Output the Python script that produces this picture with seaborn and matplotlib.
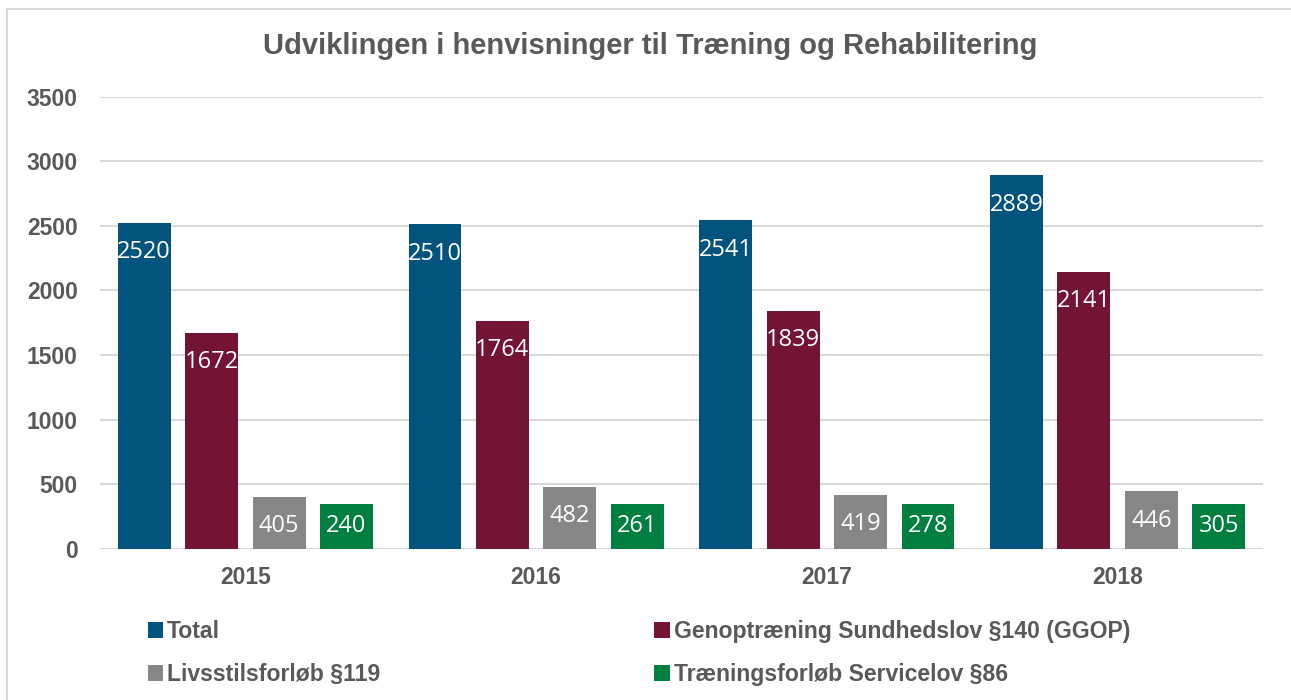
import matplotlib
matplotlib.use("Agg")
import matplotlib.pyplot as plt
import seaborn as sns
import pandas as pd
from matplotlib.patches import Rectangle

years = ["2015", "2016", "2017", "2018"]
series = ["Total", "Genoptræning Sundhedslov §140 (GGOP)",
          "Livsstilsforløb §119", "Træningsforløb Servicelov §86"]
total = [2520, 2510, 2541, 2889]
ggop = [1672, 1764, 1839, 2141]
livsstil = [405, 482, 419, 446]
traening_bar = [350, 350, 350, 350]      # bar heights as drawn in the picture
traening_label = [240, 261, 278, 305]    # printed labels
colors = ["#03537f", "#741435", "#878787", "#007f40"]

rows = []
for s, vals in zip(series, [total, ggop, livsstil, traening_bar]):
    for y, v in zip(years, vals):
        rows.append({"year": y, "series": s, "value": v})
df = pd.DataFrame(rows)
labels = {series[0]: total, series[1]: ggop, series[2]: livsstil, series[3]: traening_label}

sns.set_theme(style="white")
plt.rcParams["font.family"] = ["Liberation Sans", "DejaVu Sans"]

fig = plt.figure(figsize=(12.91, 7.0), dpi=100)
ax = fig.add_axes([100 / 1291, 1 - 549 / 700, (1263 - 100) / 1291, (549 - 96.5) / 700])

sns.barplot(data=df, x="year", y="value", hue="series", hue_order=series,
            palette=colors, width=0.928, gap=0.216, saturation=1,
            ax=ax, legend=True, edgecolor="none")

ax.set_ylim(0, 3500)
ax.set_yticks(range(0, 3501, 500))
ax.yaxis.grid(True, color="#d9d9d9", linewidth=1.5)
ax.set_axisbelow(True)
for sp in ax.spines.values():
    sp.set_visible(False)
ax.set_xlabel("")
ax.set_ylabel("")
ax.tick_params(axis="both", length=0)
ax.tick_params(axis="y", pad=16, labelsize=16.5, labelcolor="#595959")
ax.tick_params(axis="x", pad=12, labelsize=16.5, labelcolor="#595959")
for t in ax.get_yticklabels() + ax.get_xticklabels():
    t.set_fontweight("bold")

for i, container in enumerate(ax.containers):
    s = series[i]
    off = -16 if i == 3 else -21
    for bar, lab in zip(container, labels[s]):
        ax.annotate(str(lab), (bar.get_x() + bar.get_width() / 2, bar.get_height()),
                    xytext=(0, off), textcoords="offset points",
                    ha="center", va="center", color="white", fontsize=17,
                    family="Open Sans")

handles, hlabels = ax.get_legend_handles_labels()
ax.legend_.remove()
order = [0, 2, 1, 3]
leg = fig.legend([handles[k] for k in order], [hlabels[k] for k in order],
                 ncol=2, loc="upper left",
                 bbox_to_anchor=(127 / 1291, 1 - 599 / 700), frameon=False,
                 prop={"size": 16.6, "weight": "bold"}, labelcolor="#595959",
                 handlelength=0.68, handleheight=0.68, handletextpad=0.15,
                 columnspacing=11.9, labelspacing=0.88)

fig.text(650 / 1291, 1 - 46 / 700, "Udviklingen i henvisninger til Træning og Rehabilitering",
         ha="center", va="center", fontsize=21, fontweight="bold", color="#595959")

fig.add_artist(Rectangle((7 / 1291, -0.1), 1.2, 1 - 9.5 / 700 + 0.1,
                         transform=fig.transFigure, fill=False,
                         edgecolor="#d9d9d9", linewidth=1.5))

fig.savefig("out.png", dpi=100, facecolor="white")
